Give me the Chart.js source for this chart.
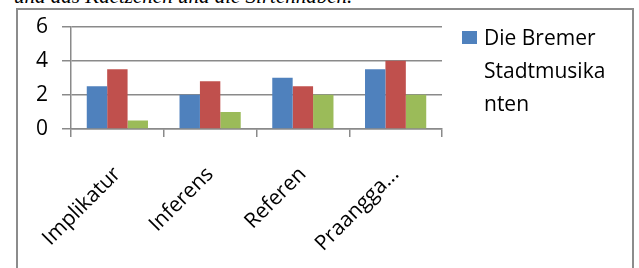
<!DOCTYPE html>
<html>
<head>
<meta charset="utf-8">
<script src="https://cdn.jsdelivr.net/npm/chart.js@4"></script>
<style>
  html, body { margin: 0; padding: 0; background: #fff; overflow: hidden; }
  body { width: 639px; height: 268px; position: relative; font-family: "Open Sans", sans-serif; }
  .caption { position: absolute; left: 14px; top: -16px; font: italic 21px "Liberation Serif", serif; line-height: 24px; color: #000; white-space: nowrap; }
  .frame { position: absolute; left: 16px; top: 8px; width: 614px; height: 280px; border: 2px solid #8c8c8c; background: #fff; }
  .chart-wrap { position: absolute; left: 0; top: 0; width: 639px; height: 268px; }
  .legend { position: absolute; left: 462px; top: 21px; font-size: 21px; line-height: 33px; color: #000; }
  .legend .box { position: absolute; left: 0; top: 10px; width: 15px; height: 13px; background: #4F81BD; }
  .legend .txt { margin-left: 22px; }
</style>
</head>
<body>
<div class="caption">und das Kaetzchen und die Sirtenhaben.</div>
<div class="frame"></div>
<div class="chart-wrap"><canvas id="barChart"></canvas></div>
<div class="legend"><div class="box"></div><div class="txt">Die Bremer<br>Stadtmusika<br>nten</div></div>
<script>
const categories = ['Implikatur', 'Inferens', 'Referen', 'Praangga...'];
const seriesNames = ['Die Bremer Stadtmusikanten', 'Seri 2', 'Seri 3'];
const blueValues = [2.5, 2, 3, 3.5];
const redValues = [3.5, 2.8, 2.5, 4];
const greenValues = [0.5, 1, 2, 2];
const yTicks = [0, 2, 4, 6];

const colors = ['#4F81BD', '#C0504D', '#9BBB59'];
const series = [blueValues, redValues, greenValues];

const ctx = document.getElementById('barChart').getContext('2d');
new Chart(ctx, {
    type: 'bar',
    data: {
        labels: categories,
        datasets: series.map((vals, i) => ({
            label: seriesNames[i],
            data: vals,
            backgroundColor: colors[i],
            borderWidth: 0,
            categoryPercentage: 0.66,
            barPercentage: 1
        }))
    },
    options: {
        responsive: true,
        maintainAspectRatio: false,
        animation: false,
        layout: { padding: { left: 22, right: 197, top: 24, bottom: 10 } },
        plugins: { legend: { display: false }, tooltip: { enabled: false } },
        scales: {
            y: {
                min: 0, max: 6,
                afterFit: s => { s.width = 49; },
                afterBuildTicks: s => { s.ticks = yTicks.map(v => ({ value: v })); },
                grid: { color: '#8a8a8a', lineWidth: 1.5, tickLength: 9, tickColor: '#8a8a8a' },
                border: { display: true, color: '#8a8a8a', width: 1.5 },
                ticks: { color: '#000', font: { family: 'Open Sans', size: 21 }, padding: 14 }
            },
            x: {
                afterFit: s => { s.height = 129; },
                grid: { drawOnChartArea: false, offset: true, color: '#8a8a8a', lineWidth: 1.5, tickLength: 8, tickColor: '#8a8a8a' },
                border: { display: true, color: '#8a8a8a', width: 1.5 },
                ticks: { color: '#000', font: { family: 'Open Sans', size: 21 }, minRotation: 45, maxRotation: 45, padding: 25 }
            }
        }
    }
});
</script>
</body>
</html>
